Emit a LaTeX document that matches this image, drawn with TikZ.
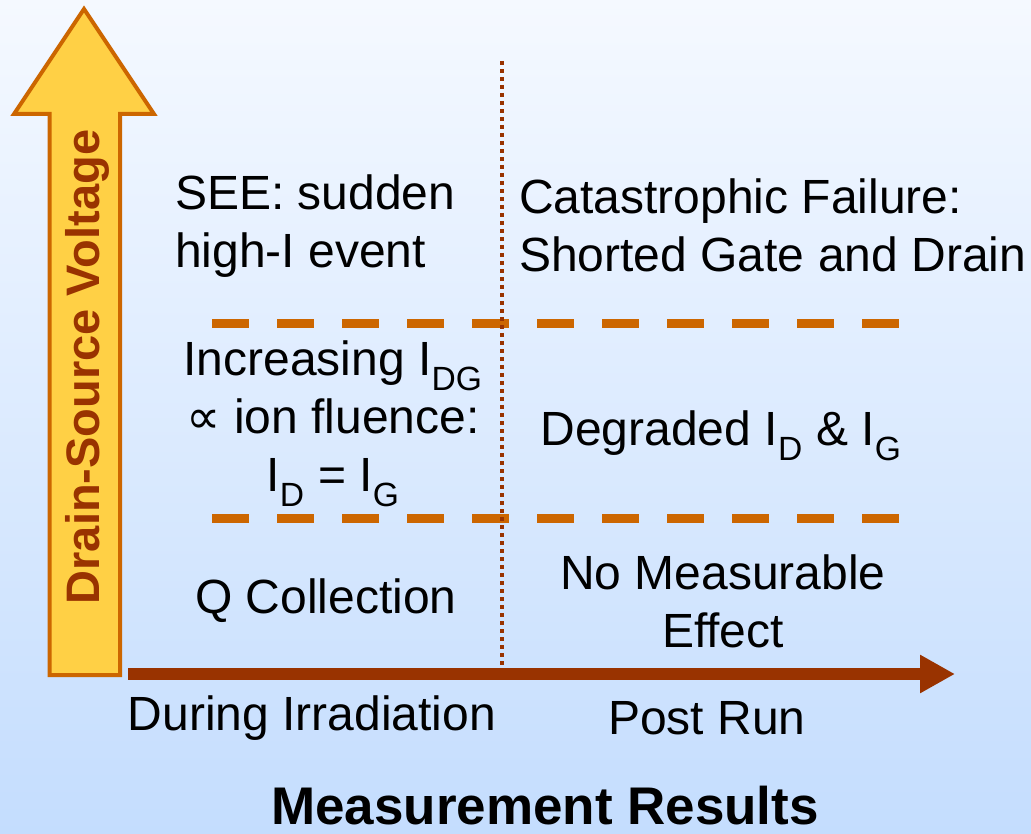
\documentclass[tikz,border=0pt]{standalone}
\usepackage{fontspec}
\setmainfont{Liberation Sans}
\newfontfamily\symbfont{DejaVu Sans}
\usetikzlibrary{arrows.meta}
\definecolor{rust}{HTML}{993300}
\definecolor{amber}{HTML}{CC6600}
\definecolor{gold}{HTML}{FFD045}
\definecolor{skytop}{HTML}{F5F9FF}
\definecolor{skybot}{HTML}{C4DDFE}

\begin{document}
\begin{tikzpicture}[x=1pt, y=-1pt,
	   lbl/.style={inner sep=0pt, font=\fontsize{48}{58}\selectfont},
	   lvl/.style={amber, line width=9pt, dash pattern=on 37pt off 28pt}]
	  \fill[top color=skytop, bottom color=skybot] (0,0) rectangle (1031,834);
	  % voltage axis as a block arrow
	  \draw[amber, line width=4pt, fill=gold, line join=miter] (49.5,675) -- (49.5,114) -- (14,114) -- (84,9) -- (154,114) -- (120,114) -- (120,675) -- cycle;
	  \node[lbl, rust, rotate=90, font=\fontsize{47}{57}\selectfont\bfseries] (vds) at (87,367) {Drain-Source Voltage};
	  % level boundaries and the split between the two columns
	  \draw[lvl] (212,324) -- (900,324);
	  \draw[lvl] (212,518) -- (900,518);
	  \coordinate (divtop) at (502,61);
	  \coordinate (divbot) at (502,668);
	  \draw[rust, line width=4pt, dash pattern=on 4pt off 4pt] (divtop) -- (divbot);
	  \coordinate (orig) at (128,674);
	  \coordinate (tend) at (955,674);
	  \draw[rust, line width=12pt, -{Triangle[length=35pt, width=36pt]}] (orig) -- (tend);
	  % cells
	  \node[lbl, anchor=west, align=left] (see) at (175,226) {SEE: sudden\\high-I event};
	  \node[lbl, anchor=west, align=left] (cat) at (519,225) {Catastrophic Failure:\\Shorted Gate and Drain};
	  \node[lbl, align=center] (inc) at (333,424) {Increasing I\textsubscript{DG}\\{\symbfont ∝} ion fluence:\\I\textsubscript{D} = I\textsubscript{G}};
	  \node[lbl] (deg) at (721,436) {Degraded I\textsubscript{D} \& I\textsubscript{G}};
	  \node[lbl] (qcol) at (326,601) {Q Collection};
	  \node[lbl, align=center] (nome) at (723,601) {No Measurable\\Effect};
	  % column labels
	  \node[lbl] (during) at (312,718) {During Irradiation};
	  \node[lbl] (post) at (707,718) {Post Run};
	  \node[lbl, font=\fontsize{53}{60}\selectfont\bfseries] (meas) at (545,806) {Measurement Results};
	\end{tikzpicture}
\end{document}
